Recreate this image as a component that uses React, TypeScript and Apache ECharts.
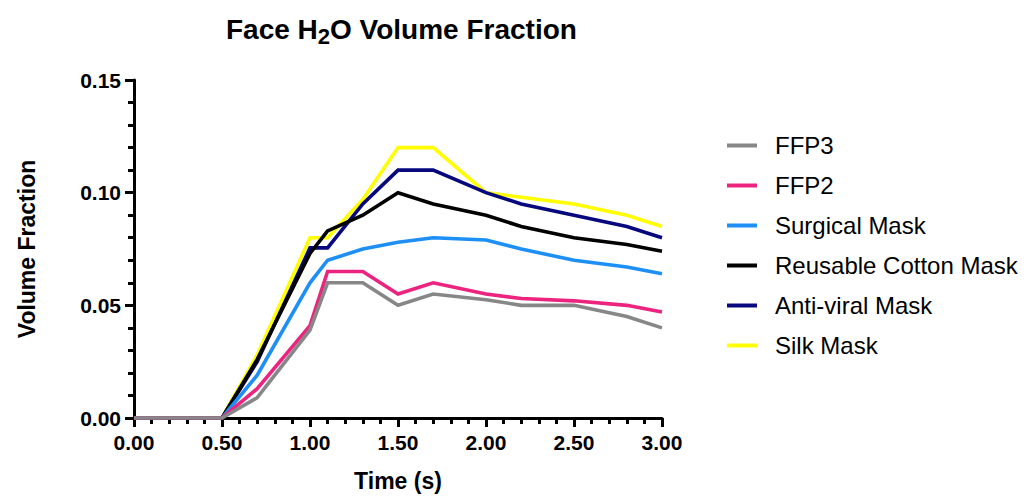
import React, { useEffect, useRef } from "react";
import * as echarts from "echarts";

const times = [0, 0.5, 0.7, 1.0, 1.1, 1.3, 1.5, 1.7, 2.0, 2.2, 2.5, 2.8, 3.0];
const ffp3 = [0, 0, 0.009, 0.039, 0.06, 0.06, 0.05, 0.055, 0.0525, 0.05, 0.05, 0.045, 0.04];
const ffp2 = [0, 0, 0.013, 0.041, 0.065, 0.065, 0.055, 0.06, 0.055, 0.053, 0.052, 0.05, 0.047];
const surgical = [0, 0, 0.019, 0.06, 0.07, 0.075, 0.078, 0.08, 0.079, 0.075, 0.07, 0.067, 0.064];
const cotton = [0, 0, 0.026, 0.073, 0.083, 0.09, 0.1, 0.095, 0.09, 0.085, 0.08, 0.077, 0.074];
const antiviral = [0, 0, 0.025, 0.0755, 0.0755, 0.095, 0.11, 0.11, 0.1, 0.095, 0.09, 0.085, 0.08];
const silk = [0, 0, 0.028, 0.08, 0.08, 0.097, 0.12, 0.12, 0.1, 0.098, 0.095, 0.09, 0.085];

const seriesNames = ["FFP3", "FFP2", "Surgical Mask", "Reusable Cotton Mask", "Anti-viral Mask", "Silk Mask"];
const seriesValues = [ffp3, ffp2, surgical, cotton, antiviral, silk];
const seriesColors = ["#878787", "#EC2480", "#1E8FF5", "#000000", "#08087E", "#FFFF00"];

const xTickInterval = 0.5;
const yTickInterval = 0.05;

const FONT = 'Arial, "Liberation Sans", Helvetica, sans-serif';

export default function App() {
  const ref = useRef<HTMLDivElement>(null);
  useEffect(() => {
    if (!ref.current) return;
    const chart = echarts.init(ref.current, undefined, { renderer: "svg" });
    const axisLine = { show: true, lineStyle: { color: "#000", width: 3 } };
    const series = seriesNames
      .map((name, i) => ({
        name,
        type: "line" as const,
        data: times.map((t, j) => [t, seriesValues[i][j]]),
        symbol: "none",
        lineStyle: { color: seriesColors[i], width: 3.6, join: "miter" as const },
        itemStyle: { color: seriesColors[i] },
        z: 10 - i,
      }))
      .reverse();
    const tickLabel = {
      fontFamily: FONT,
      fontSize: 21,
      fontWeight: "bold",
      color: "#000",
      formatter: (v: number) => v.toFixed(2),
    };
    chart.setOption({
      animation: false,
      backgroundColor: "#ffffff",
      title: {
        text: "{a|Face H}{s|2}{a|O Volume Fraction}",
        left: 226,
        top: 11,
        padding: 0,
        textStyle: {
          fontFamily: FONT,
          rich: {
            a: { fontSize: 28, fontWeight: "bold", fontFamily: FONT, color: "#000", lineHeight: 36 },
            s: { fontSize: 22, fontWeight: "bold", fontFamily: FONT, color: "#000", lineHeight: 36, padding: [15, 0, 0, 0] },
          },
        },
      },
      legend: {
        orient: "vertical",
        left: 727,
        top: 132,
        padding: 0,
        itemGap: 13,
        itemWidth: 30,
        itemHeight: 4,
        icon: "rect",
        data: seriesNames,
        selectedMode: false,
        textStyle: {
          fontFamily: FONT,
          fontSize: 24,
          color: "#000",
          lineHeight: 27,
          padding: [0, 0, 0, 13],
        },
      },
      grid: { left: 134, top: 80, width: 528, height: 338, containLabel: false },
      xAxis: {
        type: "value",
        min: 0,
        max: 3,
        interval: xTickInterval,
        name: "Time (s)",
        nameLocation: "middle",
        nameGap: 51,
        nameTextStyle: { fontFamily: FONT, fontSize: 23, fontWeight: "bold", color: "#000" },
        axisLine: { ...axisLine, onZero: false },
        axisTick: { show: true, inside: false, length: 9, lineStyle: { color: "#000", width: 3 } },
        minorTick: { show: true, splitNumber: 5, length: 6, lineStyle: { color: "#000", width: 3 } },
        splitLine: { show: false },
        axisLabel: { ...tickLabel, margin: 14 },
      },
      yAxis: {
        type: "value",
        min: 0,
        max: 0.15,
        interval: yTickInterval,
        name: "Volume Fraction",
        nameLocation: "middle",
        nameGap: 96,
        nameTextStyle: { fontFamily: FONT, fontSize: 23, fontWeight: "bold", color: "#000" },
        axisLine: { ...axisLine, onZero: false },
        axisTick: { show: true, inside: false, length: 9, lineStyle: { color: "#000", width: 3 } },
        minorTick: { show: true, splitNumber: 5, length: 6, lineStyle: { color: "#000", width: 3 } },
        splitLine: { show: false },
        axisLabel: { ...tickLabel, margin: 13 },
      },
      series,
    });
    return () => chart.dispose();
  }, []);
  return (
    <div
      ref={ref}
      style={{ position: "fixed", left: 0, top: 0, width: 1031, height: 498, background: "#fff" }}
    />
  );
}
